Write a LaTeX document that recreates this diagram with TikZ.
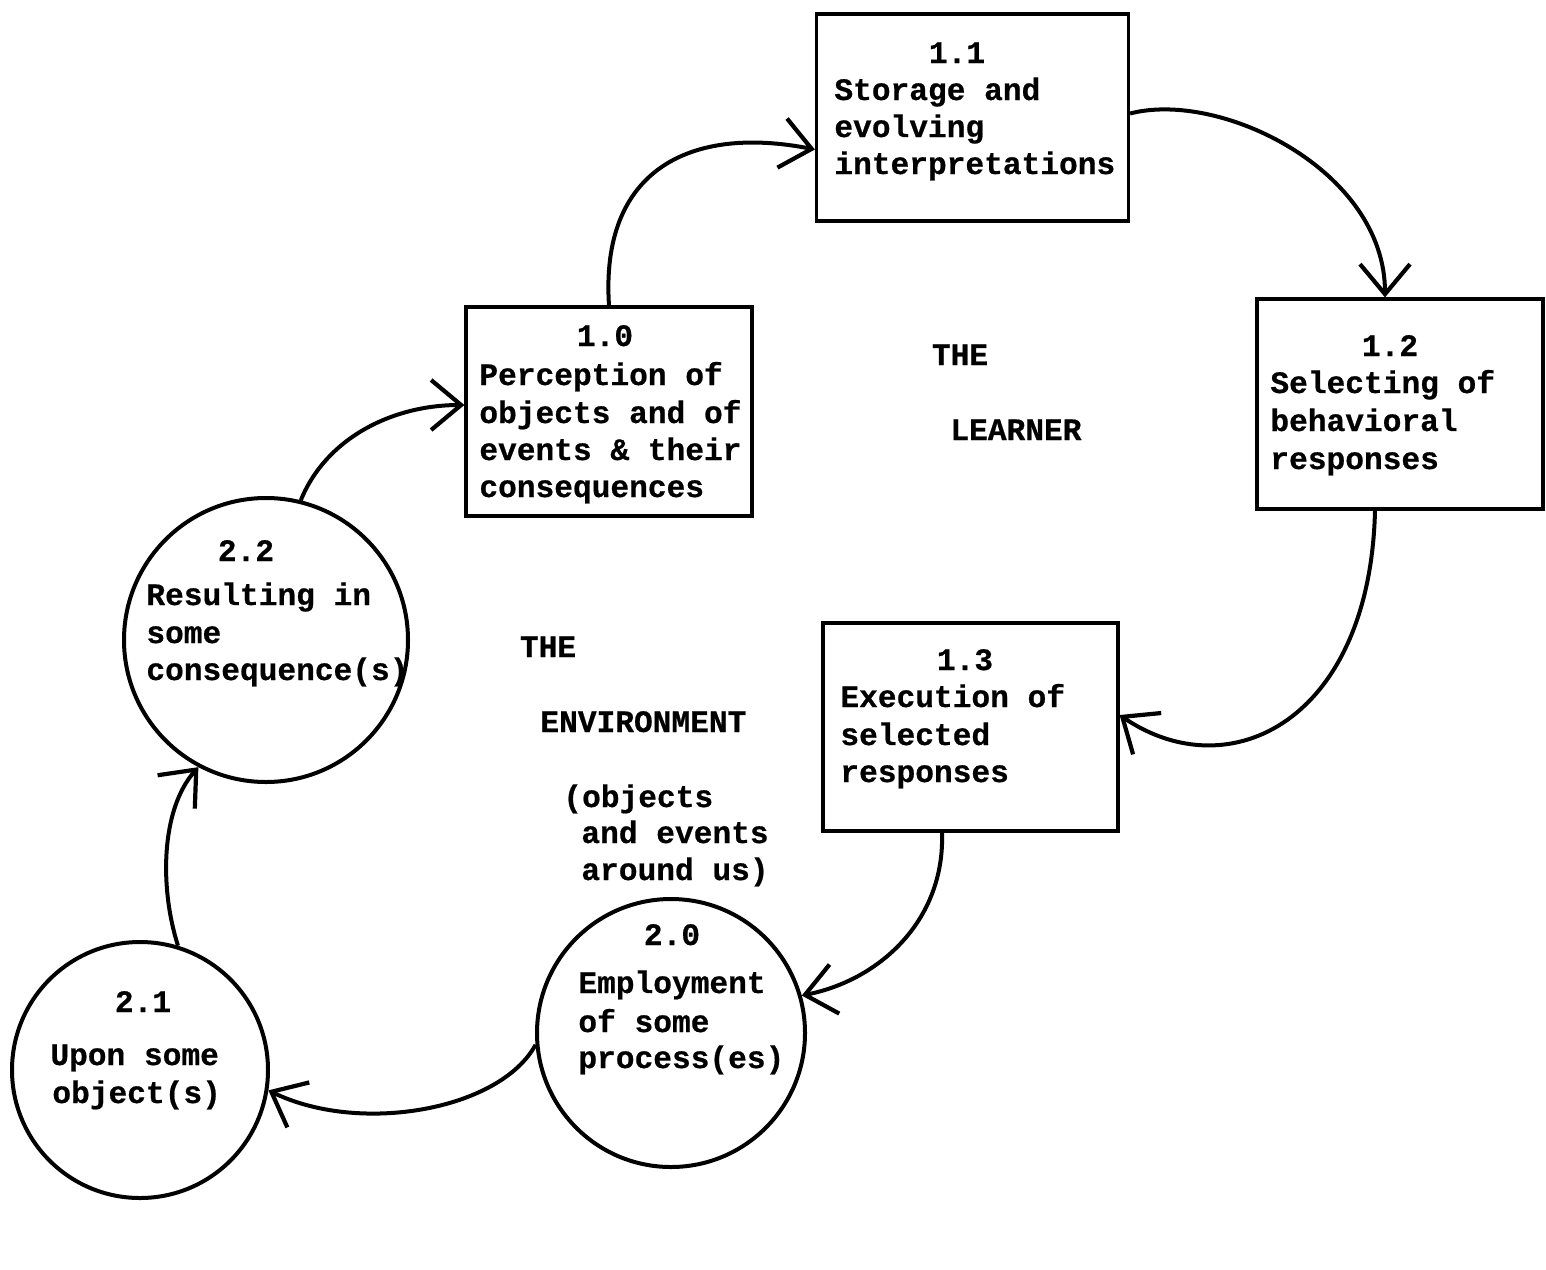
\documentclass[tikz,border=0pt]{standalone}
\usepackage{fontspec}
\newfontfamily\tyfont{Liberation Mono}[FakeBold=0.6]
\usetikzlibrary{arrows.meta}
\begin{document}
\begin{tikzpicture}[x=0.5pt,y=-0.5pt,
  box/.style={draw, line width=1.6pt, inner sep=0pt},
  proc/.style={draw, circle, line width=2pt, inner sep=0pt},
  txt/.style={anchor=base west, inner sep=0pt, font=\tyfont\bfseries\fontsize{15.6}{18}\selectfont},
  ttl/.style={anchor=base, inner sep=0pt, font=\tyfont\bfseries\fontsize{15.6}{18}\selectfont},
  flow/.style={line width=2pt, -{Straight Barb[length=15pt,width=25pt,line width=2.1pt]}}]
\useasboundingbox (0,0) rectangle (1546,1269);

% boxes
\node[box, minimum width=156pt, minimum height=103.5pt] (b11) at (972.5,117.5) {};
\node[box, minimum width=143pt, minimum height=104.5pt] (b10) at (609,411.5) {};
\node[box, minimum width=143pt, minimum height=105pt] (b12) at (1400,404) {};
\node[box, minimum width=147.5pt, minimum height=104pt] (b13) at (970.5,727) {};
% circles
\node[proc, minimum size=142pt] (c22) at (266,640) {};
\node[proc, minimum size=128pt] (c21) at (140,1070) {};
\node[proc, minimum size=134pt] (c20) at (671,1033) {};

% texts 1.1
\node[ttl] (t11a) at (957,63) {1.1};
\node[txt] (t11b) at (834,100) {Storage and};
\node[txt] (t11c) at (834,137) {evolving};
\node[txt] (t11d) at (834,174) {interpretations};
% 1.0
\node[ttl] (t10a) at (605,346) {1.0};
\node[txt] (t10b) at (479,385) {Perception of};
\node[txt] (t10c) at (479,423) {objects and of};
\node[txt] (t10d) at (479,460) {events \& their};
\node[txt] (t10e) at (479,497) {consequences};
% 1.2
\node[ttl] (t12a) at (1390,356) {1.2};
\node[txt] (t12b) at (1270,393) {Selecting of};
\node[txt] (t12c) at (1270,431) {behavioral};
\node[txt] (t12d) at (1270,469) {responses};
% 1.3
\node[ttl] (t13a) at (965,670) {1.3};
\node[txt] (t13b) at (840,707) {Execution of};
\node[txt] (t13c) at (840,745) {selected};
\node[txt] (t13d) at (840,782) {responses};
% 2.2
\node[ttl] (t22a) at (246,561) {2.2};
\node[txt] (t22b) at (146,605) {Resulting in};
\node[txt] (t22c) at (146,643) {some};
\node[txt] (t22d) at (146,680) {consequence(s)};
% 2.1
\node[ttl] (t21a) at (143,1012) {2.1};
\node[txt] (t21b) at (50,1065) {Upon some};
\node[txt] (t21c) at (52,1103) {object(s)};
% 2.0
\node[ttl] (t20a) at (672,945) {2.0};
\node[txt] (t20b) at (578,993) {Employment};
\node[txt] (t20c) at (578,1032) {of some};
\node[txt] (t20d) at (578,1068) {process(es)};

% free labels
\node[ttl] (lthe1) at (960,365) {THE};
\node[txt] (llearn) at (950,440) {LEARNER};
\node[ttl] (lthe2) at (548,657) {THE};
\node[txt] (lenv) at (540,732) {ENVIRONMENT};
\node[txt] (lobj) at (563,807) {(objects};
\node[txt] (land) at (581,843) {and events};
\node[txt] (laround) at (581,880) {around us)};

% connectors
\draw[flow] (b10.north) .. controls (600,170) and (690,125) .. ([yshift=-16pt]b11.west);
\draw[flow] ([yshift=2pt]b11.east) .. controls (1220,90) and (1385,170) .. ([xshift=-7.5pt]b12.north);
\draw[flow] ([xshift=-12.5pt]b12.south) .. controls (1370,720) and (1230,790) .. ([yshift=6pt]b13.east);
\draw[flow] ([xshift=-14.25pt]b13.south) .. controls (945,920) and (880,980) .. (c20.16);
\draw[flow] (c20.185) .. controls (500,1110) and (360,1135) .. (c21.-9);
\draw[flow] (c21.73) .. controls (160,890) and (160,810) .. (c22.-118);
\draw[flow] (c22.76) .. controls (325,440) and (390,405) .. ([yshift=3.25pt]b10.west);
\end{tikzpicture}
\end{document}
